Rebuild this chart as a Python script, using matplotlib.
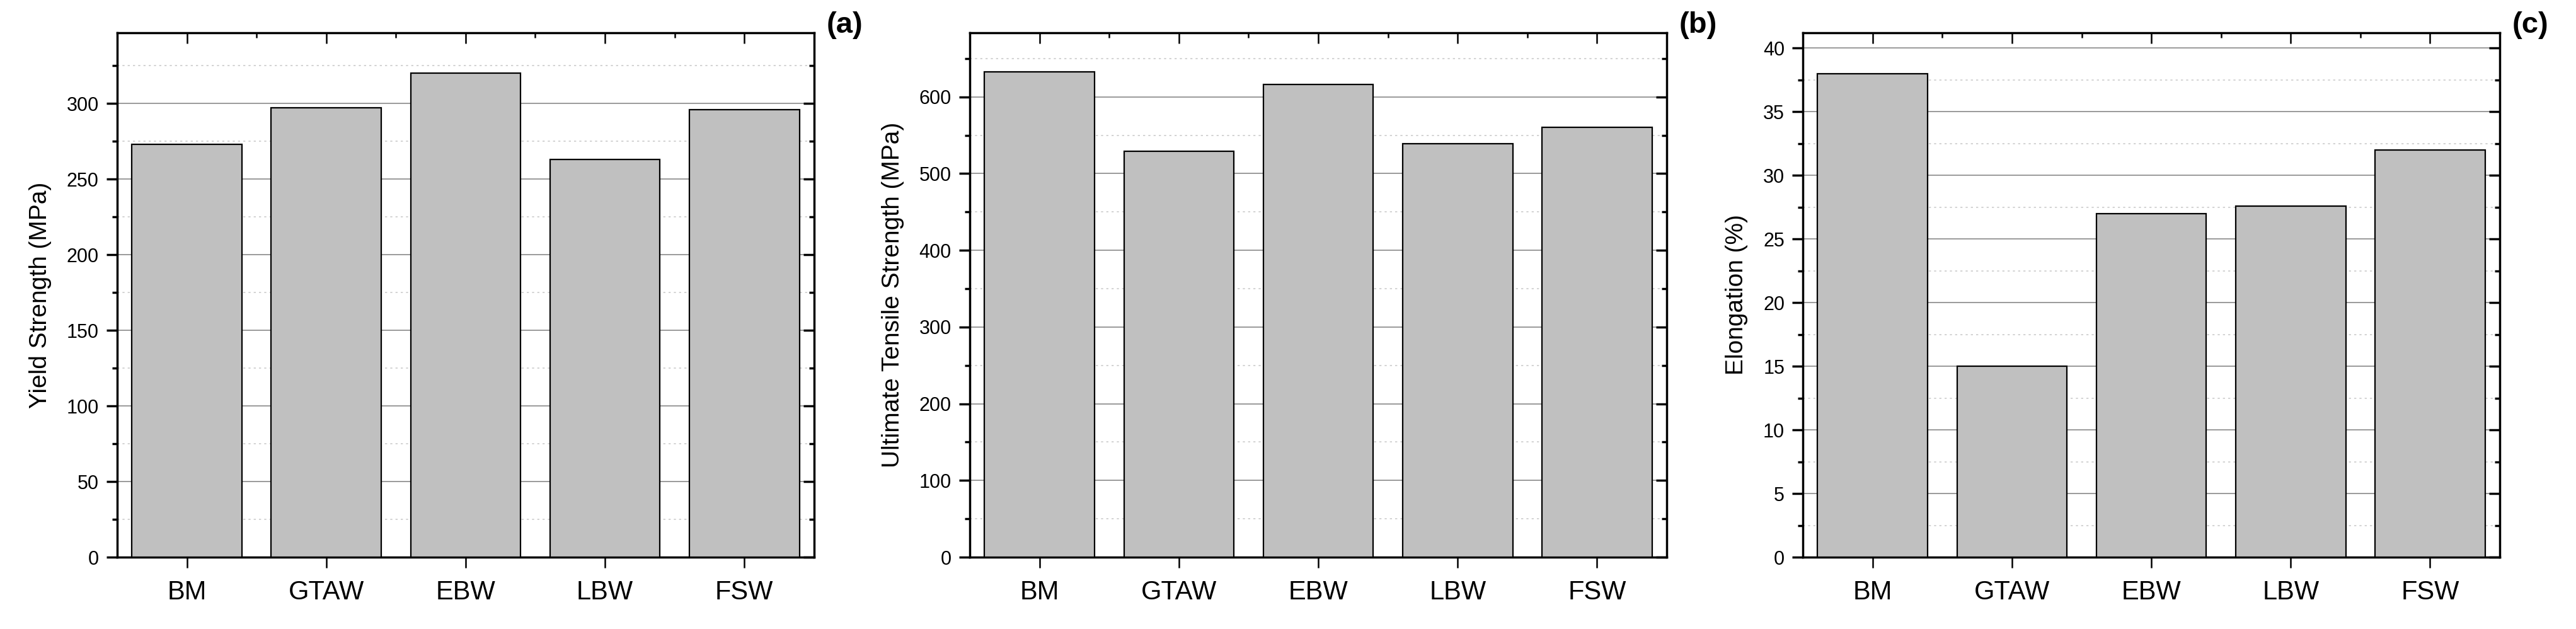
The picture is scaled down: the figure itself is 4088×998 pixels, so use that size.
import matplotlib
matplotlib.use("Agg")
import matplotlib.pyplot as plt
from matplotlib.ticker import MultipleLocator
import numpy as np

plt.rcParams["font.family"] = ["Liberation Sans", "DejaVu Sans"]

processes = ["BM", "GTAW", "EBW", "LBW", "FSW"]
yield_strength = [273, 297, 320, 263, 296]
uts = [633, 529, 616, 539, 560]
elongation = [38, 15, 27, 27.6, 32]

panels = [
    ("(a)", yield_strength, "Yield Strength (MPa)", 346.7, 50),
    ("(b)", uts, "Ultimate Tensile Strength (MPa)", 683.6, 100),
    ("(c)", elongation, "Elongation (%)", 41.2, 5),
]
lefts = [0.0455, 0.3765, 0.6999]


def style_axis(ax, ymax, major):
    ax.set_xlim(-0.5, len(processes) - 0.5)
    ax.set_ylim(0, ymax)
    ax.yaxis.set_major_locator(MultipleLocator(major))
    ax.yaxis.set_minor_locator(MultipleLocator(major / 2))
    ax.xaxis.set_minor_locator(MultipleLocator(0.5))
    ax.grid(True, which="major", axis="y", color="#9a9a9a", lw=1.4, zorder=0)
    ax.grid(True, which="minor", axis="y", color="#cccccc", lw=1.2,
            ls=(0, (2, 3)), zorder=0)
    ax.set_axisbelow(True)
    for s in ax.spines.values():
        s.set_linewidth(2.5)
    ax.tick_params(axis="y", which="both", left=True, right=True, width=2.5)
    ax.tick_params(axis="y", which="major", length=12, labelsize=22, pad=9)
    ax.tick_params(axis="y", which="minor", length=6)
    ax.tick_params(axis="y", which="both", direction="out")
    ax.tick_params(axis="x", which="major", bottom=True, top=True, length=12,
                   width=1.8, labelsize=30, pad=14, direction="out")
    ax.tick_params(axis="x", which="minor", bottom=False, top=True, length=6,
                   width=1.8)


fig = plt.figure(figsize=(40.88, 9.98), dpi=100)
x = np.arange(len(processes))
for (tag, values, label, ymax, major), left in zip(panels, lefts):
    ax = fig.add_axes([left, 0.1142, 0.2705, 0.8337])
    ax.bar(x, values, width=0.79, color="#c0c0c0", edgecolor="black",
           linewidth=1.6, zorder=3)
    style_axis(ax, ymax, major)
    ax.set_xticks(x)
    ax.set_xticklabels(processes)
    ax.set_ylabel(label, fontsize=28, labelpad=17)
    # ticks on top and right point inwards (Origin style)
    for t in ax.xaxis.get_major_ticks() + ax.xaxis.get_minor_ticks():
        t.tick2line.set_marker(3)
    for t in ax.yaxis.get_major_ticks() + ax.yaxis.get_minor_ticks():
        t.tick2line.set_marker(0)
    ax.text(1.018, 1.014, tag, transform=ax.transAxes, fontsize=34,
            fontweight="bold", ha="left", va="center")

fig.savefig("out.png", dpi=100)
